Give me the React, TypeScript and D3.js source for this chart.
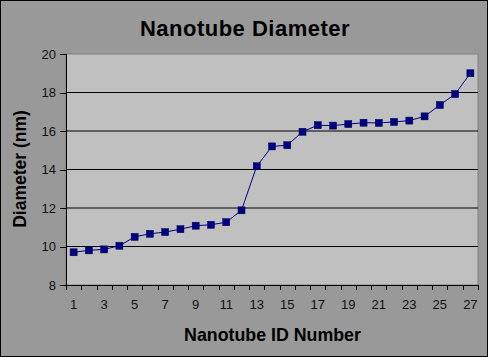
import React from "react";
import * as d3 from "d3";

const ids: number[] = Array.from({ length: 27 }, (_, i) => i + 1);
const diameters: number[] = [
  9.7, 9.8, 9.85, 10.04, 10.5, 10.66, 10.75, 10.9, 11.08, 11.13, 11.26, 11.88,
  14.17, 15.2, 15.26, 15.96, 16.3, 16.28, 16.36, 16.43, 16.42, 16.47, 16.54,
  16.76, 17.35, 17.92, 19.0,
];
const yTicks: number[] = [8, 10, 12, 14, 16, 18, 20];
const xLabelIds: number[] = ids.filter((d) => d % 2 === 1);
const title = "Nanotube Diameter";
const xTitle = "Nanotube ID Number";
const yTitle = "Diameter (nm)";

const W = 488;
const H = 357;
const L = 66;
const R = 478;
const T = 54;
const B = 285;
const FONT = "'Liberation Sans', Arial, sans-serif";

export default function App() {
  const x = d3
    .scaleBand<number>()
    .domain(ids)
    .range([L, R])
    .paddingInner(0)
    .paddingOuter(0);
  const y = d3.scaleLinear().domain([8, 20]).range([B, T]);
  const cx = (d: number) => (x(d) as number) + x.bandwidth() / 2;
  const line = d3
    .line<number>()
    .x((_, i) => cx(ids[i]))
    .y((d) => y(d));
  const boundaries = d3.range(0, ids.length + 1).map((i) => L + i * x.bandwidth());

  return (
    <svg
      width={W}
      height={H}
      style={{ position: "absolute", left: 0, top: 0 }}
      fontFamily={FONT}
    >
      <rect x={0.5} y={0.5} width={W - 1} height={H - 1} fill="#999999" stroke="#000" />
      <rect x={L} y={T} width={R - L} height={B - T} fill="#c0c0c0" stroke="#808080" />
      {yTicks
        .filter((t) => t !== 8 && t !== 20)
        .map((t) => (
          <line key={t} x1={L} x2={R} y1={y(t)} y2={y(t)} stroke="#000" />
        ))}
      <line x1={L + 0.5} x2={L + 0.5} y1={T} y2={B} stroke="#000" />
      <line x1={L} x2={R} y1={B + 0.5} y2={B + 0.5} stroke="#000" />
      {yTicks.map((t) => (
        <g key={t}>
          <line x1={L - 6} x2={L} y1={Math.round(y(t)) + 0.5} y2={Math.round(y(t)) + 0.5} stroke="#000" />
          <text x={L - 10} y={y(t) + 4.5} fontSize={13} textAnchor="end" fill="#111">
            {t}
          </text>
        </g>
      ))}
      {boundaries.map((bx, i) => (
        <line key={i} x1={Math.round(bx) + 0.5} x2={Math.round(bx) + 0.5} y1={B} y2={B + 5} stroke="#000" />
      ))}
      {xLabelIds.map((d) => (
        <text key={d} x={cx(d)} y={309} fontSize={13} textAnchor="middle" fill="#111">
          {d}
        </text>
      ))}
      <path d={line(diameters) || ""} fill="none" stroke="#000080" strokeWidth={1} />
      {diameters.map((v, i) => (
        <rect
          key={i}
          x={cx(ids[i]) - 3.5}
          y={y(v) - 3.5}
          width={7}
          height={7}
          fill="#000080"
          stroke="#000050"
          strokeWidth={0.5}
        />
      ))}
      <text x={245} y={36} fontSize={22} fontWeight="bold" textAnchor="middle" fill="#000" letterSpacing={0.5}>
        {title}
      </text>
      <text x={272.5} y={341} fontSize={17.8} fontWeight="bold" textAnchor="middle" fill="#000">
        {xTitle}
      </text>
      <text
        transform={`translate(26,169) rotate(-90)`}
        fontSize={17.5}
        fontWeight="bold"
        textAnchor="middle"
        fill="#000"
      >
        {yTitle}
      </text>
    </svg>
  );
}
